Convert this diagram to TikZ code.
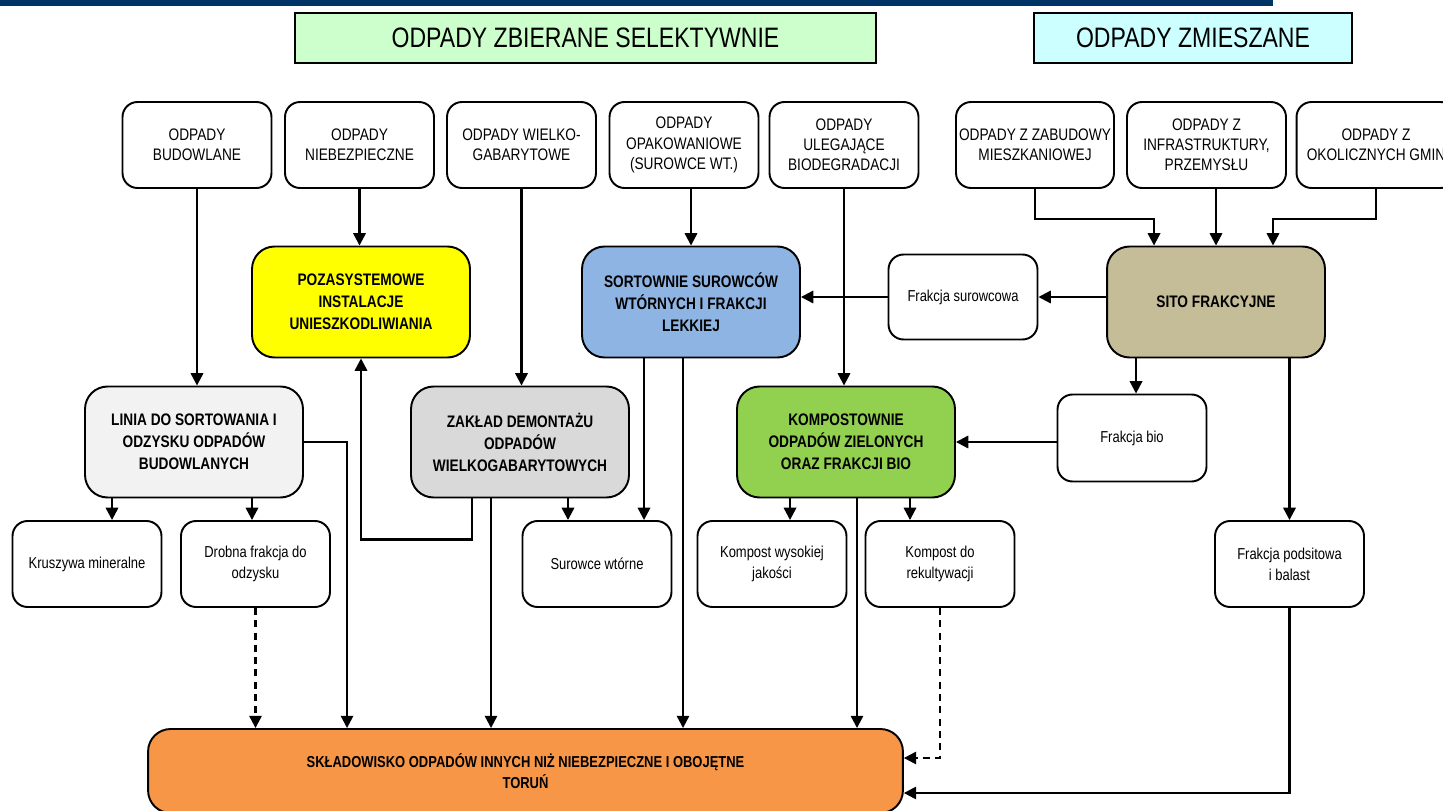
\documentclass[tikz,border=0pt]{standalone}
\usepackage{fontspec}
\setmainfont{Liberation Sans}[FakeStretch=0.82]
\usetikzlibrary{arrows.meta, shapes, positioning}

\definecolor{navybar}{RGB}{0,51,102}
\definecolor{selgreen}{RGB}{204,255,204}
\definecolor{mixcyan}{RGB}{204,255,255}
\definecolor{pozayellow}{RGB}{255,255,0}
\definecolor{sortblue}{RGB}{141,180,226}
\definecolor{sitotan}{RGB}{196,189,151}
\definecolor{liniagray}{RGB}{242,242,242}
\definecolor{zakladgray}{RGB}{217,217,217}
\definecolor{kompgreen}{RGB}{146,208,80}
\definecolor{skladorange}{RGB}{247,150,70}

\tikzset{
  header/.style={draw, line width=0.9pt, font=\fontsize{16}{18}\selectfont,
    minimum height=1cm, inner sep=0pt},
  source/.style={draw, line width=1.1pt, rounded corners=0.3cm, fill=white,
    align=center, font=\fontsize{9.5}{11.5}\selectfont,
    minimum width=2.98cm, minimum height=1.72cm, inner sep=1pt},
  plant/.style={draw, line width=1.1pt, rounded corners=0.45cm, align=center,
    font=\bfseries\fontsize{9.5}{12.5}\selectfont,
    minimum width=4.36cm, minimum height=2.22cm},
  product/.style={source, font=\fontsize{9}{12}\selectfont},
  dashedflow/.style={->, dash pattern=on 4pt off 3pt},
}

\begin{document}
\begin{tikzpicture}[x=0.02cm, y=-0.02cm, line width=1.3pt,
    >={Triangle[length=7pt,width=7pt]}]
  \useasboundingbox (0,0) rectangle (1443,811);
  \fill[navybar] (0,0) rectangle (1273,6);

  % headers
  \node[header, fill=selgreen, minimum width=11.62cm] (hsel) at (585.5,38) {ODPADY ZBIERANE SELEKTYWNIE};
  \node[header, fill=mixcyan, minimum width=6.36cm] (hmix) at (1193,38) {ODPADY ZMIESZANE};

  % sources
  \node[source] (budowlane) at (197,145) {ODPADY\\BUDOWLANE};
  \node[source] (niebezp) at (359.5,145) {ODPADY\\NIEBEZPIECZNE};
  \node[source] (wielko) at (521.5,145) {ODPADY WIELKO-\\GABARYTOWE};
  \node[source] (opak) at (684,145) {ODPADY\\OPAKOWANIOWE\\(SUROWCE WT.)};
  \node[source] (uleg) at (844,145) {ODPADY\\ULEGAJĄCE\\BIODEGRADACJI};
  \node[source, minimum width=3.16cm] (zabud) at (1035,145) {ODPADY Z ZABUDOWY\\MIESZKANIOWEJ};
  \node[source, minimum width=3.18cm] (infra) at (1206.5,145) {ODPADY Z\\INFRASTRUKTURY,\\PRZEMYSŁU};
  \node[source, minimum width=3.18cm] (gmin) at (1376,145) {ODPADY Z\\OKOLICZNYCH GMIN};

  % plants
  \node[plant, fill=pozayellow] (poza) at (361,302) {POZASYSTEMOWE\\INSTALACJE\\UNIESZKODLIWIANIA};
  \node[plant, fill=sortblue] (sort) at (691,302) {SORTOWNIE SUROWCÓW\\WTÓRNYCH I FRAKCJI\\LEKKIEJ};
  \node[product, minimum height=1.7cm] (fsur) at (963,297) {Frakcja surowcowa};
  \node[plant, fill=sitotan] (sito) at (1216,302) {SITO FRAKCYJNE};
  \node[plant, fill=liniagray] (linia) at (194,442) {LINIA DO SORTOWANIA I\\ODZYSKU ODPADÓW\\BUDOWLANYCH};
  \node[plant, fill=zakladgray] (zaklad) at (520,442) {ZAKŁAD DEMONTAŻU\\ODPADÓW\\WIELKOGABARYTOWYCH};
  \node[plant, fill=kompgreen] (komp) at (846,442) {KOMPOSTOWNIE\\ODPADÓW ZIELONYCH\\ORAZ FRAKCJI BIO};
  \node[product, minimum height=1.74cm] (fbio) at (1132,438) {Frakcja bio};

  % products
  \node[product] (krusz) at (87,564) {Kruszywa mineralne};
  \node[product] (drobna) at (255.5,564) {Drobna frakcja do\\odzysku};
  \node[product] (surowce) at (597,564) {Surowce wtórne};
  \node[product] (kwys) at (772,564) {Kompost wysokiej\\jakości};
  \node[product] (krek) at (940,564) {Kompost do\\rekultywacji};
  \node[product] (fpods) at (1289.5,564) {Frakcja podsitowa\\i balast};

  % landfill
  \node[plant, fill=skladorange, minimum width=15.1cm, minimum height=1.68cm,
    font=\bfseries\fontsize{9}{12}\selectfont] (sklad) at (525.5,771)
    {SKŁADOWISKO ODPADÓW INNYCH NIŻ NIEBEZPIECZNE I OBOJĘTNE\\TORUŃ};

  % Edges
  \draw[->] (budowlane.south) -- (budowlane.south |- linia.north);
  \draw[->] (niebezp.south) -- (niebezp.south |- poza.north);
  \draw[->] (wielko.south) -- (wielko.south |- zaklad.north);
  \draw[->] ([xshift=0.14cm]opak.south) -- ([xshift=0.14cm]opak.south |- sort.north);
  \draw[->] (uleg.south) -- (uleg.south |- komp.north);

  \draw[->] (zabud.south) -- ++(0,30) -| ([xshift=-1.24cm]sito.north);
  \draw[->] (infra.south -| sito.north) -- (sito.north);
  \draw[->] (gmin.south) -- ++(0,30) -| ([xshift=1.14cm]sito.north);

  \draw[->] (sito.west |- fsur.east) -- (fsur.east);
  \draw[->] (fsur.west) -- (sort.east |- fsur.west);
  \draw[->] ([xshift=-1.6cm]sito.south) -- ([xshift=-1.6cm]sito.south |- fbio.north);
  \draw[->] (fbio.west |- komp.east) -- (komp.east);
  \draw[->] (sito.south -| fpods.north) -- (fpods.north);
  \draw[->] (fpods.south) |- ([yshift=-0.44cm]sklad.east);
  \draw[dashedflow] (krek.south) |- ([yshift=0.26cm]sklad.east);

  \draw[->] ([xshift=-1.64cm]linia.south) -- ([xshift=-1.64cm]linia.south |- krusz.north);
  \draw[->] ([xshift=1.16cm]linia.south) -- ([xshift=1.16cm]linia.south |- drobna.north);
  \draw[->] (linia.east) -| ([xshift=-3.57cm]sklad.north);
  \draw[dashedflow] (drobna.south) -- (drobna.south |- sklad.north);

  \draw[->] ([xshift=-0.96cm]zaklad.south) -- ++(0,41) -| (poza.south);
  \draw[->] ([xshift=-0.58cm]zaklad.south) -- ([xshift=-0.58cm]zaklad.south |- sklad.north);
  \draw[->] ([xshift=0.96cm]zaklad.south) -- ([xshift=0.96cm]zaklad.south |- surowce.north);

  \draw[->] ([xshift=-0.94cm]sort.south) -- ([xshift=-0.94cm]sort.south |- surowce.north);
  \draw[->] ([xshift=-0.16cm]sort.south) -- ([xshift=-0.16cm]sort.south |- sklad.north);

  \draw[->] ([xshift=-1.12cm]komp.south) -- ([xshift=-1.12cm]komp.south |- kwys.north);
  \draw[->] ([xshift=1.28cm]komp.south) -- ([xshift=1.28cm]komp.south |- krek.north);
  \draw[->] ([xshift=0.22cm]komp.south) -- ([xshift=0.22cm]komp.south |- sklad.north);
\end{tikzpicture}
\end{document}
